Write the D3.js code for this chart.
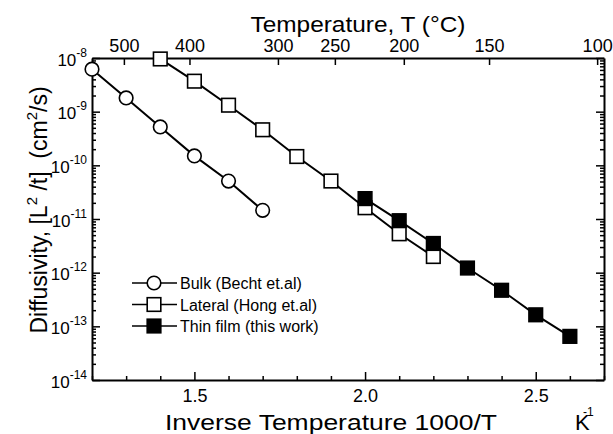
<!DOCTYPE html>
<html>
<head>
<meta charset="utf-8">
<script src="https://cdn.jsdelivr.net/npm/d3@7"></script>
<style>
  body { margin: 0; background: #fff; }
  text { font-family: "Liberation Sans", Arial, sans-serif; fill: #000; }
  .domain { stroke: #000; stroke-width: 2px; }
  .tick line { stroke: #000; stroke-width: 1.5px; }
</style>
</head>
<body>
<svg id="chart" width="613" height="434"></svg>
<script>
// bulk diffusion (Becht et al.)
var bulkX = [1.2, 1.3, 1.4, 1.5, 1.6, 1.7];
var bulkD = [6.2e-9, 1.8e-9, 5.2e-10, 1.5e-10, 5.1e-11, 1.45e-11];
// lateral (Hong et al.)
var latX = [1.4, 1.5, 1.6, 1.7, 1.8, 1.9, 2.0, 2.1, 2.2];
var latD = [9.6e-9, 3.7e-9, 1.32e-9, 4.6e-10, 1.46e-10, 5.1e-11, 1.62e-11, 5.3e-12, 2.0e-12];
// thin film (this work)
var filmX = [2.0, 2.1, 2.2, 2.3, 2.4, 2.5, 2.6];
var filmD = [2.4e-11, 9.3e-12, 3.5e-12, 1.22e-12, 4.7e-13, 1.64e-13, 6.5e-14];

var xTicks = [1.5, 2.0, 2.5];
var tempTicks = [500, 400, 300, 250, 200, 150, 100];
var legendNames = ["Bulk (Becht et.al)", "Lateral (Hong et.al)", "Thin film (this work)"];

var plotL = 92, plotR = 604, plotT = 58, plotB = 380;

var svg = d3.select("#chart");

var x = d3.scaleLinear().domain([1.2, 2.7]).range([plotL, plotR]);
var y = d3.scaleLog().domain([1e-14, 1e-8]).range([plotB, plotT]);

var decades = d3.range(-14, -7).map(e => Math.pow(10, e));
var minors = [];
d3.range(-14, -8).forEach(e => {
    for (var k = 2; k < 10; k++) minors.push(k * Math.pow(10, e));
});
var xMinor = d3.range(12, 28).map(v => v / 10).filter(v => xTicks.indexOf(v) < 0);

// bottom axis
svg.append("g")
    .attr("transform", "translate(0," + plotB + ")")
    .call(d3.axisBottom(x).tickValues(xMinor).tickSize(-4).tickFormat(""))
    .call(g => g.select(".domain").remove());
svg.append("g")
    .attr("transform", "translate(0," + plotB + ")")
    .call(d3.axisBottom(x).tickValues(xTicks).tickSizeInner(-8).tickSizeOuter(0).tickPadding(9)
        .tickFormat(d3.format(".1f")))
    .call(g => g.selectAll("text").attr("font-size", 18).attr("font-family", null));

// top axis in degrees C
svg.append("g")
    .attr("transform", "translate(0," + plotT + ")")
    .call(d3.axisTop(x).tickValues(tempTicks.map(t => 1000 / (t + 273.15))).tickSizeInner(-7).tickSizeOuter(0).tickPadding(6)
        .tickFormat((d, i) => tempTicks[i]))
    .call(g => g.selectAll("text").attr("font-size", 18).attr("font-family", null));

// left axis
svg.append("g")
    .attr("transform", "translate(" + plotL + ",0)")
    .call(d3.axisLeft(y).tickValues(minors).tickSize(-4).tickFormat(""))
    .call(g => g.select(".domain").remove());
var yAxis = svg.append("g")
    .attr("transform", "translate(" + plotL + ",0)")
    .call(d3.axisLeft(y).tickValues(decades).tickSizeInner(-8).tickSizeOuter(0).tickFormat(""));
yAxis.selectAll(".tick").append("text")
    .attr("x", -5).attr("y", 7)
    .attr("text-anchor", "end")
    .attr("font-size", 17)
    .call(t => t.append("tspan").text("10"))
    .call(t => t.append("tspan").attr("dy", -9).attr("font-size", 12).text(d => Math.round(Math.log10(d))));

// right axis
svg.append("g")
    .attr("transform", "translate(" + plotR + ",0)")
    .call(d3.axisRight(y).tickValues(minors).tickSize(-4).tickFormat(""))
    .call(g => g.select(".domain").remove());
svg.append("g")
    .attr("transform", "translate(" + plotR + ",0)")
    .call(d3.axisRight(y).tickValues(decades).tickSizeInner(-8).tickSizeOuter(0).tickFormat(""));

// axis titles
svg.append("text")
    .attr("x", 358).attr("y", 32)
    .attr("text-anchor", "middle")
    .attr("font-size", 22)
    .attr("textLength", 215)
    .attr("lengthAdjust", "spacingAndGlyphs")
    .text("Temperature, T (°C)");

svg.append("text")
    .attr("x", 165).attr("y", 430)
    .attr("font-size", 22)
    .attr("textLength", 332)
    .attr("lengthAdjust", "spacingAndGlyphs")
    .text("Inverse Temperature 1000/T");
svg.append("text")
    .attr("x", 575).attr("y", 430)
    .attr("font-size", 22)
    .text("K");
svg.append("text")
    .attr("x", 583).attr("y", 416)
    .attr("font-size", 12)
    .text("-1");

var yt = svg.append("text")
    .attr("transform", "translate(47,210) rotate(-90)")
    .attr("text-anchor", "middle")
    .attr("font-size", 23);
yt.append("tspan").text("Diffusivity, [L");
yt.append("tspan").attr("dy", -10).attr("font-size", 15).text("2");
yt.append("tspan").attr("dy", 10).text(" /t]\u00a0\u00a0(cm");
yt.append("tspan").attr("dy", -10).attr("font-size", 15).text("2");
yt.append("tspan").attr("dy", 10).text("/s)");

// series
var line = d3.line().x(d => x(d[0])).y(d => y(d[1]));
var series = [
    { pts: d3.zip(bulkX, bulkD), shape: "circle", fill: "#fff" },
    { pts: d3.zip(latX, latD), shape: "square", fill: "#fff" },
    { pts: d3.zip(filmX, filmD), shape: "square", fill: "#000" }
];

series.forEach(s => {
    svg.append("path")
        .attr("d", line(s.pts))
        .attr("fill", "none")
        .attr("stroke", "#000")
        .attr("stroke-width", 2);
});

function marker(g, s, cx, cy) {
    if (s.shape == "circle") {
        g.append("circle").attr("cx", cx).attr("cy", cy).attr("r", 6.8)
            .attr("fill", s.fill).attr("stroke", "#000").attr("stroke-width", 1.6);
    } else {
        g.append("rect").attr("x", cx - 6.8).attr("y", cy - 6.8).attr("width", 13.6).attr("height", 13.6)
            .attr("fill", s.fill).attr("stroke", "#000").attr("stroke-width", 1.6);
    }
}

series.forEach(s => {
    var g = svg.append("g");
    s.pts.forEach(p => marker(g, s, x(p[0]), y(p[1])));
});

// legend
var legend = svg.append("g");
series.forEach((s, i) => {
    var ly = 283 + i * 21.5;
    legend.append("line").attr("x1", 132).attr("x2", 177).attr("y1", ly).attr("y2", ly)
        .attr("stroke", "#000").attr("stroke-width", 1.6);
    marker(legend, s, 154, ly);
    legend.append("text").attr("x", 180).attr("y", ly + 6)
        .attr("font-size", 16).text(legendNames[i]);
});
</script>
</body>
</html>
